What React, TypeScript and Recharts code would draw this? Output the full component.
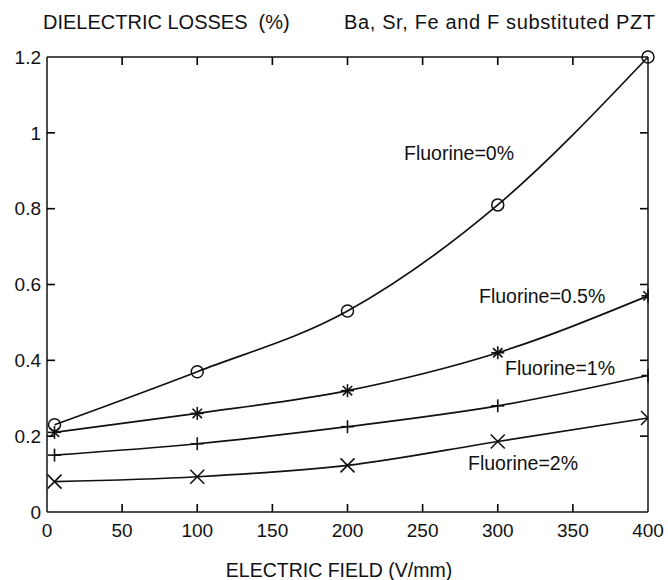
import React from 'react';
import { LineChart, Line, XAxis, YAxis, Customized, ReferenceLine } from 'recharts';

const fieldValues = [5, 100, 200, 300, 400];
const fluorine0 = [0.23, 0.37, 0.53, 0.81, 1.2];
const fluorine05 = [0.21, 0.26, 0.32, 0.42, 0.57];
const fluorine1 = [0.15, 0.18, 0.225, 0.28, 0.36];
const fluorine2 = [0.08, 0.093, 0.123, 0.186, 0.248];

const xTicks = [0, 50, 100, 150, 200, 250, 300, 350, 400];
const yTicks = [0, 0.2, 0.4, 0.6, 0.8, 1, 1.2];
const xDomain: [number, number] = [0, 400];
const yDomain: [number, number] = [0, 1.2];
const seriesLabels = ['Fluorine=0%', 'Fluorine=0.5%', 'Fluorine=1%', 'Fluorine=2%'];
const titleLeft = 'DIELECTRIC LOSSES  (%)';
const titleRight = 'Ba, Sr, Fe and F substituted PZT';
const xTitle = 'ELECTRIC FIELD (V/mm)';

const data = fieldValues.map((x, i) => ({
  x,
  f0: fluorine0[i],
  f05: fluorine05[i],
  f1: fluorine1[i],
  f2: fluorine2[i],
}));

const INK = '#111';
const FONT = '"Liberation Sans", Arial, Helvetica, sans-serif';
const W = 668;
const H = 580;
const MARGIN = { top: 57, right: 20, bottom: 38, left: 7 };
const Y_AXIS_W = 40;
const X_AXIS_H = 30;
const X_TICK_MARGIN = 12;
const Y_TICK_MARGIN = 6;
const TICK_LEN = 8;

// plot area derived from the chart layout settings
const PLOT_X = MARGIN.left + Y_AXIS_W;
const PLOT_Y = MARGIN.top;
const PLOT_W = W - MARGIN.right - PLOT_X;
const PLOT_H = H - MARGIN.bottom - X_AXIS_H - PLOT_Y;

type Kind = 'circle' | 'star' | 'plus' | 'cross';

const makeDot = (kind: Kind) => (props: any) => {
  const { cx, cy, index, payload } = props;
  if (cx == null || cy == null) return <g key={`n-${index}`} />;
  const half = payload && payload.x === xDomain[1] && kind !== 'circle';
  const s = 6.5;
  const lines: Array<[number, number, number, number]> = [];
  if (kind === 'circle') {
    return (
      <circle key={`c-${index}`} cx={cx} cy={cy} r={6} fill="none" stroke={INK} strokeWidth={1.5} />
    );
  }
  const d = s * 0.72;
  if (kind === 'plus' || kind === 'star') {
    lines.push([cx - s, cy, half ? cx : cx + s, cy]);
    lines.push([cx, cy - s, cx, cy + s]);
  }
  if (kind === 'cross' || kind === 'star') {
    const e = kind === 'cross' ? 7 : d;
    lines.push([cx - e, cy - e, half ? cx : cx + e, half ? cy : cy + e]);
    lines.push([cx - e, cy + e, half ? cx : cx + e, half ? cy : cy - e]);
  }
  return (
    <g key={`m-${index}`}>
      {lines.map((l, i) => (
        <line key={i} x1={l[0]} y1={l[1]} x2={l[2]} y2={l[3]} stroke={INK} strokeWidth={1.6} />
      ))}
    </g>
  );
};

// bottom tick label plus inward tick marks on bottom and top edges
const XTick = (props: any) => {
  const { x, y, payload } = props;
  const v = payload ? payload.value : 0;
  const base = y - X_TICK_MARGIN;
  const edge = v === xDomain[0] || v === xDomain[1];
  return (
    <g>
      {!edge && (
        <>
          <line x1={x} x2={x} y1={base} y2={base - TICK_LEN} stroke="#000" strokeWidth={1.6} />
          <line x1={x} x2={x} y1={base - PLOT_H} y2={base - PLOT_H + TICK_LEN} stroke="#000" strokeWidth={1.6} />
        </>
      )}
      <text x={x} y={y} dy="0.71em" textAnchor="middle" fill={INK} fontSize={19} fontFamily={FONT}>
        {String(v)}
      </text>
    </g>
  );
};

// left tick label plus inward tick marks on left and right edges
const YTick = (props: any) => {
  const { x, y, payload } = props;
  const v = payload ? payload.value : 0;
  const base = x + Y_TICK_MARGIN;
  const edge = v === yDomain[0] || v === yDomain[1];
  return (
    <g>
      {!edge && (
        <>
          <line x1={base} x2={base + TICK_LEN} y1={y} y2={y} stroke="#000" strokeWidth={1.6} />
          <line x1={base + PLOT_W} x2={base + PLOT_W - TICK_LEN} y1={y} y2={y} stroke="#000" strokeWidth={1.6} />
        </>
      )}
      <text x={x} y={y} dy="0.355em" textAnchor="end" fill={INK} fontSize={19} fontFamily={FONT}>
        {String(v)}
      </text>
    </g>
  );
};

const Overlay = () => (
  <g>
    <text x={43} y={29} fontSize={20} fontFamily={FONT} fill={INK} style={{ whiteSpace: 'pre' }}>{titleLeft}</text>
    <text x={344} y={29} fontSize={20} fontFamily={FONT} fill={INK} textLength={311} lengthAdjust="spacing">{titleRight}</text>
    <text x={404} y={160} fontSize={19.5} fontFamily={FONT} fill={INK}>{seriesLabels[0]}</text>
    <text x={479} y={303} fontSize={19.5} fontFamily={FONT} fill={INK}>{seriesLabels[1]}</text>
    <text x={505} y={375} fontSize={19.5} fontFamily={FONT} fill={INK}>{seriesLabels[2]}</text>
    <text x={468} y={470} fontSize={19.5} fontFamily={FONT} fill={INK}>{seriesLabels[3]}</text>
    <text x={339} y={577} fontSize={19.5} fontFamily={FONT} fill={INK} textAnchor="middle">{xTitle}</text>
  </g>
);

const axisStroke = { stroke: INK, strokeWidth: 1.5 };

export default function App() {
  return (
    <div style={{ position: 'absolute', left: 0, top: 0, width: W, height: H, background: '#fff' }}>
      <LineChart width={W} height={H} data={data} margin={MARGIN} style={{ fontFamily: FONT }}>
        <XAxis
          dataKey="x"
          type="number"
          domain={xDomain}
          ticks={xTicks}
          height={X_AXIS_H}
          axisLine={axisStroke}
          tickLine={false}
          tickSize={0}
          tickMargin={X_TICK_MARGIN}
          tick={XTick}
          interval={0}
        />
        <YAxis
          type="number"
          domain={yDomain}
          ticks={yTicks}
          width={Y_AXIS_W}
          axisLine={axisStroke}
          tickLine={false}
          tickSize={0}
          tickMargin={Y_TICK_MARGIN}
          tick={YTick}
          interval={0}
        />
        <ReferenceLine y={yDomain[1]} stroke={INK} strokeWidth={1.5} />
        <ReferenceLine x={xDomain[1]} stroke={INK} strokeWidth={1.5} />
        <Line type="monotone" dataKey="f0" stroke={INK} strokeWidth={1.7} dot={makeDot('circle')} isAnimationActive={false} />
        <Line type="monotone" dataKey="f05" stroke={INK} strokeWidth={1.7} dot={makeDot('star')} isAnimationActive={false} />
        <Line type="monotone" dataKey="f1" stroke={INK} strokeWidth={1.7} dot={makeDot('plus')} isAnimationActive={false} />
        <Line type="monotone" dataKey="f2" stroke={INK} strokeWidth={1.7} dot={makeDot('cross')} isAnimationActive={false} />
        <Customized component={Overlay} />
      </LineChart>
    </div>
  );
}
